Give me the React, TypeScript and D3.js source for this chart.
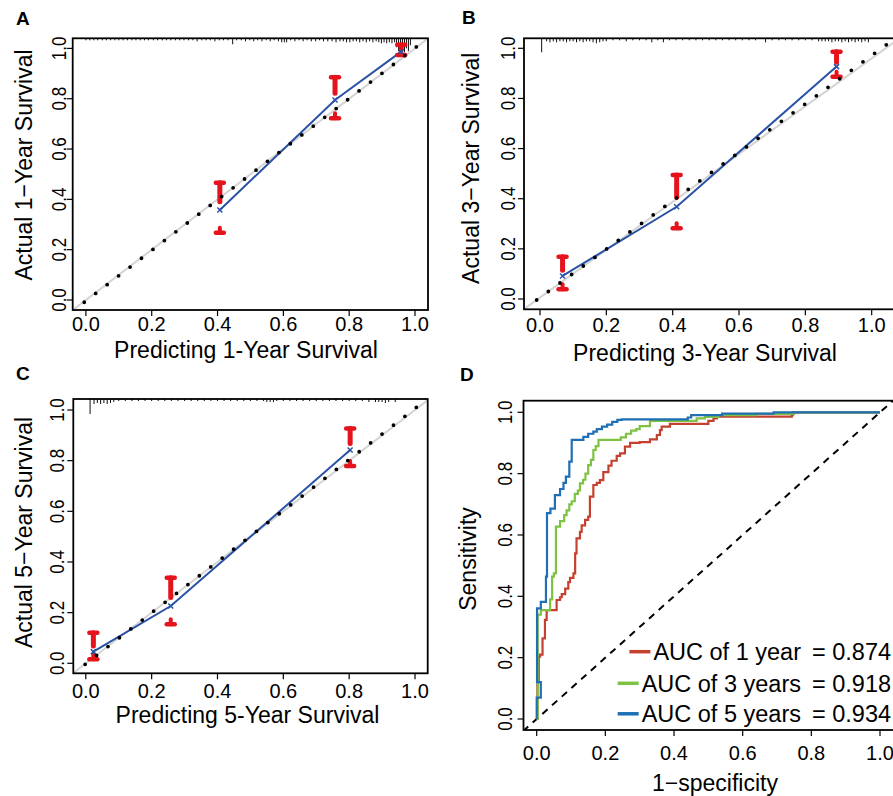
import React from 'react';
import * as d3 from 'd3';

const FONT = '"Liberation Sans", Arial, sans-serif';
const TICKS = [0, 0.2, 0.4, 0.6, 0.8, 1.0];

// A: 1-year calibration
const predA = [0.407, 0.757, 0.958];
const obsA = [0.358, 0.795, 0.987];
const upA = [0.466, 0.885, 1.015];
const loA = [0.267, 0.722, 0.974];
const idealA: [number, number][] = [[-0.005, -0.009], [1.005, 1.007]];
const greyA: [number, number][] = [[-0.04, -0.04], [1.04, 1.04]];
const rugAx = [0.0, 0.012, 0.024, 0.036, 0.05, 0.062, 0.075, 0.088, 0.1, 0.113, 0.126, 0.14, 0.152, 0.165, 0.178, 0.19, 0.205, 0.218, 0.232, 0.245, 0.258, 0.272, 0.285, 0.298, 0.312, 0.325, 0.338, 0.352, 0.365, 0.378, 0.392, 0.405, 0.418, 0.432, 0.446, 0.458, 0.472, 0.485, 0.498, 0.51, 0.522, 0.535, 0.548, 0.56, 0.572, 0.585, 0.595, 0.603, 0.61, 0.622, 0.635, 0.648, 0.66, 0.672, 0.685, 0.698, 0.71, 0.722, 0.735, 0.748, 0.76, 0.772, 0.782, 0.792, 0.802, 0.812, 0.822, 0.832, 0.842, 0.852, 0.862, 0.872, 0.882, 0.89, 0.898, 0.906, 0.914, 0.922, 0.93, 0.938, 0.944, 0.95, 0.956, 0.962, 0.968, 0.974, 0.98, 0.986];
const rugAn = [1, 1, 1, 1, 1, 1, 1, 1, 1, 1, 1, 1, 1, 1, 1, 1, 1, 1, 1, 1, 1, 1, 1, 1, 1, 1, 2, 1, 1, 1, 2, 1, 1, 1, 5, 1, 1, 2, 1, 2, 1, 2, 1, 2, 1, 2, 3, 3, 3, 1, 2, 1, 2, 1, 2, 2, 1, 2, 2, 2, 3, 2, 2, 3, 3, 2, 2, 3, 2, 3, 2, 3, 2, 3, 4, 3, 4, 3, 4, 3, 8, 12, 13, 11, 13, 9, 12, 6];

// B: 3-year calibration
const predB = [0.068, 0.412, 0.894];
const obsB = [0.092, 0.368, 0.927];
const upB = [0.169, 0.495, 0.986];
const loB = [0.039, 0.282, 0.887];
const idealB: [number, number][] = [[-0.01, -0.004], [1.045, 1.015]];
const greyB: [number, number][] = [[-0.05, -0.042], [1.1, 1.055]];
const rugBx = [0.005, 0.02, 0.03, 0.04, 0.05, 0.06, 0.07, 0.08, 0.09, 0.1, 0.11, 0.12, 0.13, 0.14, 0.15, 0.16, 0.17, 0.18, 0.19, 0.2, 0.22, 0.24, 0.26, 0.28, 0.3, 0.32, 0.337, 0.355, 0.372, 0.39, 0.41, 0.43, 0.45, 0.47, 0.49, 0.51, 0.53, 0.55, 0.57, 0.59, 0.61, 0.63, 0.65, 0.68, 0.7, 0.72, 0.74, 0.76, 0.78, 0.8, 0.82, 0.84, 0.85, 0.86, 0.87, 0.88, 0.89, 0.9, 0.91, 0.92, 0.93, 0.94, 0.95, 0.96, 0.97, 0.98, 0.99];
const rugBn = [13, 2, 3, 2, 3, 2, 2, 3, 2, 2, 3, 2, 3, 2, 2, 3, 4, 3, 2, 2, 1, 1, 2, 1, 1, 1, 3, 1, 3, 1, 1, 1, 1, 1, 1, 1, 1, 1, 1, 1, 1, 1, 1, 3, 1, 1, 1, 1, 1, 1, 1, 2, 2, 2, 2, 3, 2, 2, 3, 2, 3, 2, 3, 2, 3, 2, 3];

// C: 5-year calibration
const predC = [0.023, 0.258, 0.803];
const obsC = [0.046, 0.226, 0.842];
const upC = [0.121, 0.338, 0.927];
const loC = [0.016, 0.154, 0.779];
const idealC: [number, number][] = [[-0.002, -0.004], [1.005, 1.011]];
const greyC: [number, number][] = [[-0.04, -0.04], [1.04, 1.04]];
const rugCx = [0.013, 0.025, 0.035, 0.045, 0.055, 0.065, 0.075, 0.085, 0.1, 0.12, 0.14, 0.16, 0.18, 0.2, 0.22, 0.24, 0.26, 0.28, 0.3, 0.32, 0.34, 0.36, 0.38, 0.4, 0.42, 0.44, 0.46, 0.48, 0.5, 0.52, 0.54, 0.55, 0.56, 0.57, 0.58, 0.6, 0.62, 0.64, 0.66, 0.68, 0.7, 0.72, 0.74, 0.76, 0.78, 0.8, 0.82, 0.84, 0.86, 0.88, 0.89, 0.9, 0.91, 0.92, 0.94];
const rugCn = [14, 4, 3, 4, 3, 4, 3, 2, 1, 1, 1, 1, 1, 1, 1, 1, 1, 1, 1, 1, 1, 1, 1, 1, 1, 1, 1, 1, 1, 1, 1, 2, 2, 2, 1, 1, 1, 1, 1, 1, 1, 1, 1, 1, 1, 1, 1, 1, 2, 2, 2, 2, 3, 2, 2];

// D: ROC curves, [1 - specificity, sensitivity]
const roc1: [number, number][] = [[0, 0], [0.002, 0.12], [0.006, 0.203], [0.01, 0.21], [0.017, 0.263], [0.024, 0.323], [0.029, 0.355], [0.058, 0.388], [0.068, 0.397], [0.073, 0.407], [0.083, 0.425], [0.092, 0.446], [0.097, 0.46], [0.107, 0.475], [0.112, 0.54], [0.116, 0.589], [0.126, 0.61], [0.131, 0.631], [0.141, 0.649], [0.15, 0.66], [0.155, 0.725], [0.165, 0.763], [0.175, 0.77], [0.184, 0.779], [0.194, 0.805], [0.209, 0.826], [0.218, 0.842], [0.233, 0.858], [0.243, 0.866], [0.257, 0.888], [0.272, 0.9], [0.3, 0.903], [0.33, 0.912], [0.35, 0.926], [0.359, 0.942], [0.364, 0.953], [0.388, 0.962], [0.5, 0.972], [0.515, 0.98], [0.525, 0.986], [0.743, 0.991], [0.746, 1.0], [1, 1]];
const roc3: [number, number][] = [[0, 0], [0.003, 0.34], [0.012, 0.355], [0.039, 0.39], [0.045, 0.464], [0.05, 0.475], [0.056, 0.627], [0.068, 0.645], [0.08, 0.665], [0.087, 0.68], [0.095, 0.7], [0.102, 0.71], [0.111, 0.734], [0.12, 0.745], [0.126, 0.768], [0.135, 0.78], [0.142, 0.8], [0.15, 0.828], [0.158, 0.845], [0.165, 0.877], [0.172, 0.89], [0.18, 0.91], [0.245, 0.918], [0.26, 0.93], [0.275, 0.94], [0.29, 0.945], [0.3, 0.955], [0.33, 0.972], [0.466, 0.98], [0.49, 0.985], [0.53, 0.991], [0.64, 0.995], [0.75, 1.0], [1, 1]];
const roc5: [number, number][] = [[0, 0], [0, 0.07], [0.012, 0.12], [0.001, 0.361], [0.012, 0.382], [0.027, 0.464], [0.03, 0.671], [0.04, 0.686], [0.053, 0.73], [0.068, 0.75], [0.078, 0.77], [0.085, 0.79], [0.095, 0.839], [0.102, 0.91], [0.136, 0.92], [0.15, 0.93], [0.165, 0.937], [0.175, 0.945], [0.19, 0.953], [0.205, 0.96], [0.22, 0.969], [0.235, 0.975], [0.248, 0.977], [0.44, 0.983], [0.45, 0.991], [0.54, 0.996], [0.69, 1.0], [1, 1]];
const rocLabels = ['AUC of 1 year', 'AUC of 3 years', 'AUC of 5 years'];
const rocAuc = ['0.874', '0.918', '0.934'];
const rocColors = ['#C4412F', '#7DC242', '#1E6FB4'];
const chance: [number, number][] = [[-0.04, -0.04], [1.04, 1.04]];

const fmt = d3.format('.1f');

const measure = (s: string, font: string) => {
  const ctx = document.createElement('canvas').getContext('2d');
  if (!ctx) return s.length * 11;
  ctx.font = font;
  return ctx.measureText(s).width;
};

const Axes = ({ x, y, box, xTickY, yTickX }) => {
  const [bx0, by0, bx1, by1] = box;
  return (
    <g>
      <rect x={bx0} y={by0} width={bx1 - bx0} height={by1 - by0} fill="none" stroke="#000" strokeWidth={1.8} />
      {TICKS.map(t => (
        <g key={'x' + t}>
          <line x1={x(t)} x2={x(t)} y1={by1} y2={by1 + 6} stroke="#000" strokeWidth={1.2} />
          <text x={x(t)} y={xTickY} textAnchor="middle" fontSize={20} fontFamily={FONT}>{fmt(t)}</text>
        </g>
      ))}
      {TICKS.map(t => (
        <g key={'y' + t}>
          <line x1={bx0 - 6} x2={bx0} y1={y(t)} y2={y(t)} stroke="#000" strokeWidth={1.2} />
          <text transform={`translate(${yTickX},${y(t)}) rotate(-90) scale(0.85,1)`} textAnchor="middle" fontSize={20} fontFamily={FONT}>{fmt(t)}</text>
        </g>
      ))}
    </g>
  );
};

const CalPanel = (p) => {
  const { id, tag, tagPos, box, xr, yr, pred, obs, up, lo, ideal, nDots, grey, rugX, rugN, xTitle, yTitle, xTickY, yTickX, xTitlePos, yTitlePos } = p;
  const [bx0, by0, bx1, by1] = box;
  const x = d3.scaleLinear().domain([0, 1]).range(xr);
  const y = d3.scaleLinear().domain([0, 1]).range(yr);
  const rugLen = d3.scaleLinear().domain([0, 13]).range([1, 14]);
  const calLine = d3.line<number>().x((_, i) => x(pred[i])).y((_, i) => y(obs[i]));
  const d0 = [x(ideal[0][0]), y(ideal[0][1])];
  const d1 = [x(ideal[1][0]), y(ideal[1][1])];
  const gap = (Math.hypot(d1[0] - d0[0], d1[1] - d0[1]) / (nDots - 1)) * 0.999;
  return (
    <g>
      <defs>
        <clipPath id={id}><rect x={bx0} y={by0} width={bx1 - bx0} height={by1 - by0} /></clipPath>
      </defs>
      <g clipPath={`url(#${id})`}>
        <line x1={x(grey[0][0])} y1={y(grey[0][1])} x2={x(grey[1][0])} y2={y(grey[1][1])} stroke="#d4d4d4" strokeWidth={2} />
        {rugX.map((r, i) => (
          <line key={i} x1={x(r)} x2={x(r)} y1={by0} y2={by0 + rugLen(rugN[i])} stroke="#111" strokeWidth={1} />
        ))}
        <path d={calLine(pred) || ''} fill="none" stroke="#2A52A6" strokeWidth={2} />
        {pred.map((pv, i) => {
          const px = x(pv), top = y(up[i]), bot = y(lo[i]), py = y(obs[i]);
          const stop = py - 0.3 * (py - top);
          return (
            <g key={i} stroke="#E5141C" strokeLinecap="round">
              <line x1={px} x2={px} y1={top} y2={stop} strokeWidth={5} />
              <line x1={px - 4} x2={px + 4} y1={top} y2={top} strokeWidth={4.5} />
              <line x1={px} x2={px} y1={bot} y2={bot - 5} strokeWidth={4} />
              <line x1={px - 4} x2={px + 4} y1={bot} y2={bot} strokeWidth={4.5} />
            </g>
          );
        })}
        {pred.map((pv, i) => (
          <path key={'m' + i} d={`M${x(pv) - 2.5},${y(obs[i]) - 2.5}L${x(pv) + 2.5},${y(obs[i]) + 2.5}M${x(pv) - 2.5},${y(obs[i]) + 2.5}L${x(pv) + 2.5},${y(obs[i]) - 2.5}`} stroke="#2A52A6" strokeWidth={1.5} />
        ))}
        <line x1={d0[0]} y1={d0[1]} x2={d1[0]} y2={d1[1]} stroke="#000" strokeWidth={3.8} strokeLinecap="round" strokeDasharray={`0 ${gap}`} />
      </g>
      <Axes x={x} y={y} box={box} xTickY={xTickY} yTickX={yTickX} />
      <text x={xTitlePos[0]} y={xTitlePos[1]} textAnchor="middle" fontSize={23} fontFamily={FONT}>{xTitle}</text>
      <text transform={`translate(${yTitlePos[0]},${yTitlePos[1]}) rotate(-90)`} textAnchor="middle" fontSize={23} fontFamily={FONT}>{yTitle}</text>
      <text x={tagPos[0]} y={tagPos[1]} fontSize={19} fontWeight="bold" fontFamily={FONT}>{tag}</text>
    </g>
  );
};

const RocPanel = () => {
  const box = [523.5, 400.7, 900, 730];
  const [bx0, by0, bx1, by1] = box;
  const x = d3.scaleLinear().domain([0, 1]).range([536.7, 880]);
  const y = d3.scaleLinear().domain([0, 1]).range([719, 412.3]);
  const line = d3.line<[number, number]>().x(d => x(d[0])).y(d => y(d[1])).curve(d3.curveStepAfter);
  const legFont = `23.5px ${FONT}`;
  const legY = [651.7, 683.3, 713.8];
  return (
    <g>
      <defs>
        <clipPath id="clipD"><rect x={bx0} y={by0} width={bx1 - bx0} height={by1 - by0} /></clipPath>
      </defs>
      <g clipPath="url(#clipD)">
        <line x1={x(chance[0][0])} y1={y(chance[0][1])} x2={x(chance[1][0])} y2={y(chance[1][1])} stroke="#000" strokeWidth={2} strokeDasharray="7 6" />
        {[roc1, roc3, roc5].map((c, i) => (
          <path key={i} d={line(c) || ''} fill="none" stroke={rocColors[i]} strokeWidth={2.2} />
        ))}
      </g>
      <Axes x={x} y={y} box={box} xTickY={760} yTickX={511.5} />
      <text x={715} y={791} textAnchor="middle" fontSize={23} fontFamily={FONT}>1−specificity</text>
      <text transform="translate(475.5,559) rotate(-90)" textAnchor="middle" fontSize={23} fontFamily={FONT}>Sensitivity</text>
      {rocLabels.map((lab, i) => {
        const w = measure(lab, legFont);
        const end = 801;
        return (
          <g key={i}>
            <line x1={end - w - 24} x2={end - w - 3} y1={legY[i]} y2={legY[i]} stroke={rocColors[i]} strokeWidth={3.5} />
            <text x={end} y={legY[i] + 8.5} textAnchor="end" fontSize={23.5} fontFamily={FONT}>{lab}</text>
            <text x={812} y={legY[i] + 8.5} fontSize={23.5} fontFamily={FONT}>{'= ' + rocAuc[i]}</text>
          </g>
        );
      })}
      <text x={460} y={381} fontSize={19} fontWeight="bold" fontFamily={FONT}>D</text>
    </g>
  );
};

export default function App() {
  return (
    <div style={{ position: 'absolute', left: 0, top: 0 }}>
      <svg width={893} height={796} style={{ display: 'block', background: '#fff' }}>
        <CalPanel id="clipA" tag="A" tagPos={[16, 25]} box={[72.7, 38.3, 428, 310]} xr={[85.9, 415]} yr={[300, 48.4]}
          pred={predA} obs={obsA} up={upA} lo={loA} ideal={idealA} nDots={30} grey={greyA} rugX={rugAx} rugN={rugAn}
          xTitle="Predicting 1-Year Survival" yTitle="Actual 1−Year Survival" xTickY={330.5} yTickX={65.5}
          xTitlePos={[246, 358]} yTitlePos={[31.5, 165]} />
        <CalPanel id="clipB" tag="B" tagPos={[462, 24]} box={[524, 38.3, 900, 309.3]} xr={[540, 871.7]} yr={[299, 48.3]}
          pred={predB} obs={obsB} up={upB} lo={loB} ideal={idealB} nDots={31} grey={greyB} rugX={rugBx} rugN={rugBn}
          xTitle="Predicting 3-Year Survival" yTitle="Actual 3−Year Survival" xTickY={331.5} yTickX={515}
          xTitlePos={[705, 361]} yTitlePos={[479.3, 168.3]} />
        <CalPanel id="clipC" tag="C" tagPos={[16, 380]} box={[73.3, 399, 427.7, 673.3]} xr={[85.8, 415]} yr={[663.3, 410]}
          pred={predC} obs={obsC} up={upC} lo={loC} ideal={idealC} nDots={30} grey={greyC} rugX={rugCx} rugN={rugCn}
          xTitle="Predicting 5-Year Survival" yTitle="Actual 5−Year Survival" xTickY={698} yTickX={63.5}
          xTitlePos={[247.5, 723]} yTitlePos={[31.5, 532.5]} />
        <RocPanel />
      </svg>
    </div>
  );
}
